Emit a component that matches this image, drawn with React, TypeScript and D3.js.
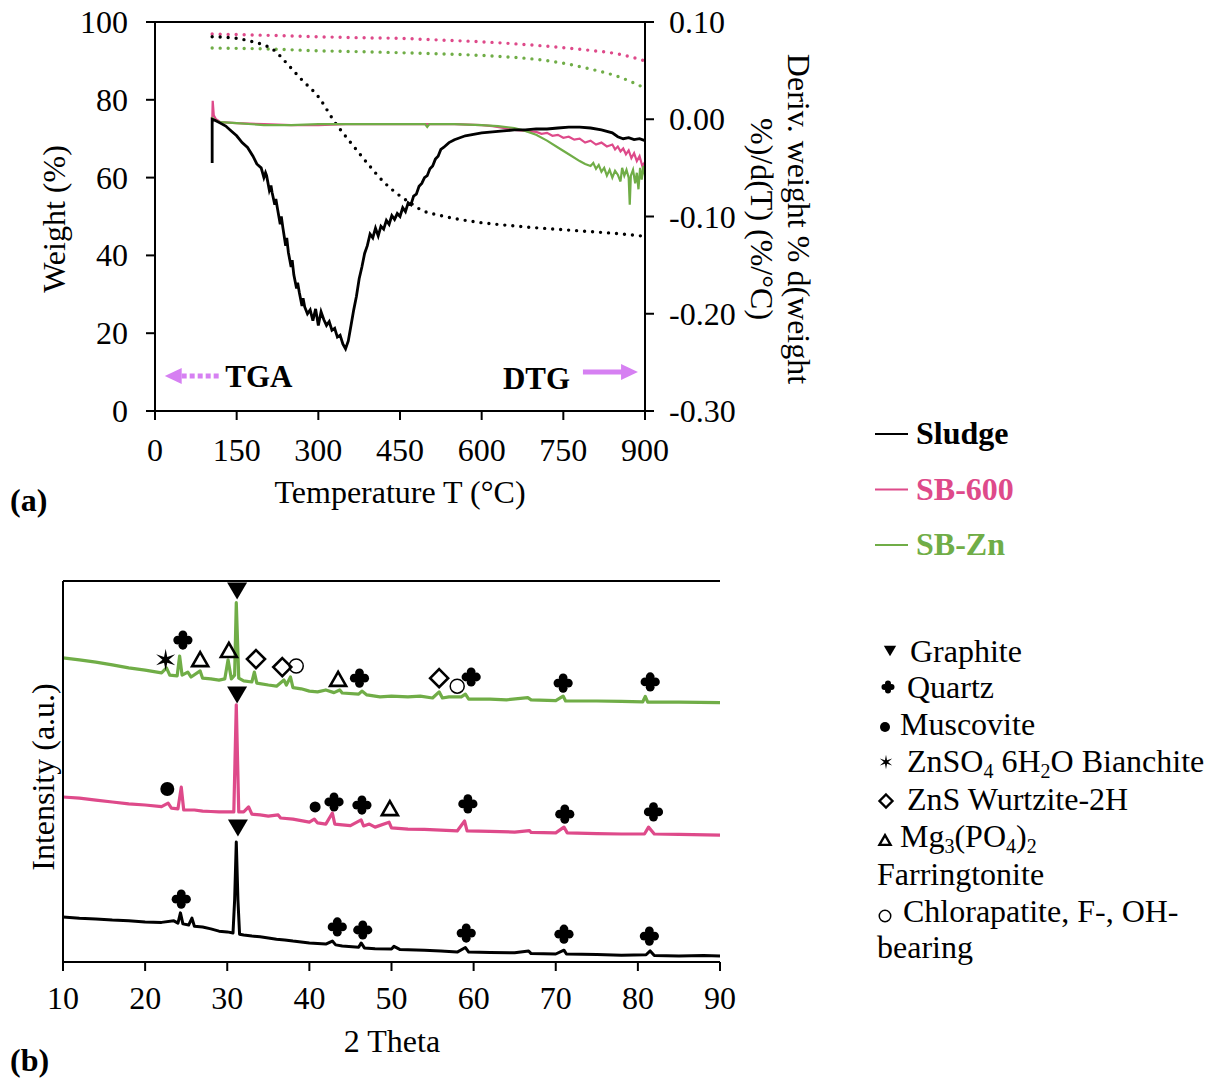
import React from 'react';
import * as d3 from 'd3';

const FONT = '"Liberation Serif", "Times New Roman", serif';
const BLACK = '#000000';
const PINK = '#DE4A8A';
const GREEN = '#70AD47';
const ARROW = '#D680F2';

// ---------- (a) TGA / DTG ----------
const tempTicks = [0, 150, 300, 450, 600, 750, 900];
const weightTicks = [0, 20, 40, 60, 80, 100];
const derivTicks = [0.1, 0, -0.1, -0.2, -0.3];

const tgaSludgeT = [105, 150, 180, 200, 220, 240, 270, 300, 330, 360, 390, 420, 450, 470, 490, 520, 550, 600, 650, 700, 750, 800, 850, 900];
const tgaSludge = [96.2, 95.8, 94.9, 94.1, 92.6, 89.7, 85.1, 80.8, 74.3, 68.9, 63.7, 58.9, 55.3, 53.4, 51.6, 50.4, 49.5, 48.4, 47.7, 47.1, 46.6, 46.1, 45.6, 44.9];
const tgaSB600T = [105, 200, 300, 400, 450, 500, 600, 700, 750, 800, 850, 900];
const tgaSB600 = [96.9, 96.6, 96.2, 95.9, 95.8, 95.5, 94.9, 94.0, 93.4, 92.7, 91.8, 90.0];
const tgaSBZnT = [105, 200, 300, 400, 450, 500, 600, 650, 700, 750, 800, 850, 900];
const tgaSBZn = [93.3, 93.1, 92.6, 92.3, 92.1, 91.9, 91.4, 91.0, 90.4, 89.4, 87.9, 86.0, 83.0];

const dtgSludge: [number, number][] = [
  [105, -0.045], [105, 0.0], [110, -0.001], [120, -0.004], [130, -0.007], [140, -0.012], [150, -0.017],
  [160, -0.024], [170, -0.029], [180, -0.038], [187, -0.046], [195, -0.05], [200, -0.06], [203, -0.055], [205, -0.058],
  [210, -0.073], [213, -0.068], [215, -0.075], [220, -0.088], [222, -0.082], [225, -0.092], [230, -0.108], [232, -0.1],
  [235, -0.112], [240, -0.13], [242, -0.122], [245, -0.137], [250, -0.152], [252, -0.145], [255, -0.16], [260, -0.174],
  [262, -0.168], [265, -0.178], [270, -0.192], [272, -0.184], [275, -0.193],
  [280, -0.2], [285, -0.196], [290, -0.207], [295, -0.195], [300, -0.212], [305, -0.198], [310, -0.206],
  [315, -0.212], [320, -0.208], [325, -0.217], [330, -0.215], [335, -0.224], [340, -0.222], [345, -0.231],
  [350, -0.236], [355, -0.228], [360, -0.212], [365, -0.196], [370, -0.182], [375, -0.164], [380, -0.152],
  [385, -0.138], [390, -0.13], [395, -0.118], [400, -0.122], [405, -0.112], [410, -0.12], [415, -0.11],
  [420, -0.113], [425, -0.104], [430, -0.108], [435, -0.099], [440, -0.103], [445, -0.097], [450, -0.1],
  [455, -0.091], [460, -0.095], [465, -0.086], [470, -0.088], [475, -0.079], [480, -0.077], [485, -0.069],
  [490, -0.066], [495, -0.06], [500, -0.058], [505, -0.051], [510, -0.048], [515, -0.041], [520, -0.038],
  [525, -0.031], [530, -0.029], [540, -0.024], [550, -0.021], [560, -0.019], [570, -0.017], [580, -0.016],
  [600, -0.014], [620, -0.013], [640, -0.012], [660, -0.011], [680, -0.011], [700, -0.01], [720, -0.01],
  [740, -0.009], [760, -0.008], [780, -0.008], [800, -0.009], [820, -0.011], [840, -0.014], [850, -0.018],
  [860, -0.02], [870, -0.019], [880, -0.021], [890, -0.02], [900, -0.022],
];
const dtgSB600: [number, number][] = [
  [105, -0.004], [106, 0.019], [108, 0.004], [112, 0.0], [120, -0.003], [150, -0.004], [200, -0.005],
  [250, -0.006], [300, -0.006], [350, -0.005], [400, -0.005], [450, -0.005], [500, -0.005], [550, -0.005],
  [600, -0.006], [620, -0.007], [640, -0.009], [660, -0.011], [680, -0.012], [700, -0.013], [710, -0.015],
  [720, -0.014], [730, -0.017], [740, -0.016], [750, -0.019], [760, -0.018], [770, -0.021], [780, -0.02],
  [790, -0.024], [800, -0.022], [810, -0.026], [820, -0.024], [830, -0.028], [840, -0.026], [845, -0.031],
  [850, -0.028], [855, -0.033], [860, -0.03], [865, -0.036], [870, -0.032], [875, -0.04], [880, -0.035],
  [885, -0.043], [890, -0.038], [895, -0.048], [900, -0.044],
];
const dtgSBZn: [number, number][] = [
  [105, -0.002], [106, 0.001], [110, -0.001], [120, -0.003], [150, -0.004], [200, -0.006], [250, -0.006],
  [300, -0.005], [350, -0.005], [400, -0.005], [450, -0.005], [496, -0.005], [500, -0.008], [504, -0.005],
  [550, -0.005], [600, -0.006], [630, -0.007], [660, -0.009], [680, -0.012], [700, -0.016], [720, -0.022],
  [740, -0.029], [760, -0.036], [780, -0.043], [790, -0.046], [800, -0.048], [805, -0.045], [810, -0.051],
  [815, -0.047], [820, -0.054], [825, -0.05], [830, -0.058], [835, -0.052], [840, -0.06], [845, -0.053],
  [850, -0.057], [855, -0.064], [858, -0.05], [862, -0.058], [866, -0.052], [870, -0.06], [872, -0.088],
  [874, -0.058], [878, -0.052], [882, -0.066], [885, -0.055], [888, -0.072], [891, -0.05], [894, -0.062],
  [897, -0.048], [900, -0.058],
];

const seriesNames = ['Sludge', 'SB-600', 'SB-Zn'];
const seriesColors = [BLACK, PINK, GREEN];

// ---------- (b) XRD ----------
const thetaTicks = [10, 20, 30, 40, 50, 60, 70, 80, 90];

const xrdSludge: [number, number][] = [
  [10, 11.8], [12, 11.5], [14, 11.3], [16, 11.0], [18, 10.8], [20, 10.5], [22, 10.4], [23.5, 10.8], [24.0, 10.2],
  [24.3, 12.9], [24.6, 10.0], [25.3, 9.7], [25.7, 11.5], [26.0, 9.4], [27, 9.2], [28, 8.7], [29, 8.1], [30, 7.9],
  [30.7, 7.6], [30.9, 16.3], [31.1, 31.5], [31.3, 16.3], [31.5, 7.3], [32, 7.1], [33, 6.8], [34, 6.6], [35, 6.3],
  [36, 6.0], [37, 5.8], [38, 5.5], [40, 5.0], [42, 4.7], [42.8, 5.5], [43.2, 4.5], [44, 4.2], [46, 3.9], [46.3, 5.0],
  [46.7, 3.7], [48, 3.5], [50, 3.4], [50.3, 4.1], [51, 3.3], [54, 3.1], [56, 2.9], [58, 2.6], [59.0, 3.8], [59.4, 2.6],
  [62, 2.5], [65, 2.4], [66.7, 2.9], [67, 2.2], [70, 2.1], [71.0, 3.1], [71.3, 2.1], [75, 2.0], [78, 1.8], [81.0, 1.9],
  [81.5, 2.9], [82, 1.7], [85, 1.6], [88, 1.7], [90, 1.6],
];
const xrdSB600: [number, number][] = [
  [10, 43.3], [12, 43.0], [14, 42.5], [16, 42.0], [18, 41.5], [20, 41.2], [22, 40.8], [22.8, 41.7], [23.2, 40.4],
  [24.0, 40.2], [24.4, 45.9], [24.7, 39.9], [26, 39.9], [27, 39.6], [28, 39.5], [29, 39.4], [30, 39.4], [30.8, 39.4],
  [31.1, 67.5], [31.4, 39.4], [32, 39.4], [32.6, 40.7], [33, 38.8], [34, 38.6], [35, 38.3], [36.2, 38.6], [36.5, 37.8],
  [38, 37.5], [40, 36.7], [40.6, 37.5], [41, 36.5], [42, 36.2], [42.8, 39.1], [43.1, 36.2], [44, 36.0], [45, 35.8],
  [46.3, 37.3], [46.6, 35.7], [47.3, 36.2], [48, 35.4], [49.7, 36.7], [50, 35.2], [52, 34.9], [54, 34.8], [56, 34.6],
  [58, 34.4], [58.9, 37.0], [59.2, 34.4], [62, 34.3], [65, 34.1], [66.8, 34.5], [67, 34.0], [70, 33.9], [71.0, 35.4],
  [71.4, 33.9], [75, 33.7], [78, 33.6], [80.8, 33.6], [81.3, 35.4], [82, 33.6], [85, 33.5], [90, 33.3],
];
const xrdSBZn: [number, number][] = [
  [10, 79.8], [12, 79.3], [14, 78.7], [16, 78.0], [18, 77.2], [20, 76.6], [22, 75.9], [22.6, 77.2], [23.0, 75.3],
  [23.9, 75.1], [24.2, 80.3], [24.5, 75.3], [25.2, 76.1], [25.6, 74.8], [26.7, 76.4], [27.0, 74.5], [28, 74.3],
  [29, 74.0], [29.7, 74.3], [30.1, 79.3], [30.5, 74.3], [30.9, 75.3], [31.1, 94.3], [31.4, 74.5], [32, 73.8],
  [33.0, 73.5], [33.3, 76.1], [33.6, 73.2], [35, 72.7], [36, 72.4], [36.9, 74.0], [37.2, 72.7], [37.7, 74.8],
  [38.0, 72.0], [39, 71.7], [40, 71.1], [41, 70.9], [42, 71.4], [43, 70.7], [43.7, 71.4], [44, 70.6], [46, 70.3],
  [46.4, 71.1], [47, 70.1], [48.6, 69.6], [50, 69.8], [52, 69.6], [53.5, 69.8], [55, 69.3], [55.8, 70.9], [56.2, 69.3],
  [57, 69.6], [58.5, 69.6], [59, 70.3], [59.4, 69.0], [62, 69.0], [64, 68.8], [66.6, 69.4], [67, 68.8], [70, 68.6],
  [70.9, 69.8], [71.2, 68.5], [75, 68.5], [78, 68.4], [80.6, 68.3], [80.9, 69.7], [81.2, 68.2], [85, 68.2], [90, 68.1],
];

type Mark = { t: number; i: number; k: string; r?: number };
const markSBZn: Mark[] = [
  { t: 22.5, i: 79.3, k: 'star' }, { t: 24.6, i: 84.5, k: 'quartz' }, { t: 26.7, i: 79.5, k: 'tri' },
  { t: 30.2, i: 81.9, k: 'tri' }, { t: 31.2, i: 97.4, k: 'graphite' }, { t: 33.5, i: 79.5, k: 'diamond' },
  { t: 36.7, i: 77.4, k: 'diamond' }, { t: 38.4, i: 77.7, k: 'circle' }, { t: 43.5, i: 74.3, k: 'tri' },
  { t: 46.1, i: 74.5, k: 'quartz' }, { t: 55.8, i: 74.5, k: 'diamond' }, { t: 58.0, i: 72.4, k: 'circle' },
  { t: 59.7, i: 74.8, k: 'quartz' }, { t: 70.9, i: 73.2, k: 'quartz' }, { t: 81.5, i: 73.5, k: 'quartz' },
];
const markSB600: Mark[] = [
  { t: 22.7, i: 45.4, k: 'dot', r: 7 }, { t: 31.2, i: 70.1, k: 'graphite' }, { t: 40.7, i: 40.7, k: 'dot', r: 5.5 },
  { t: 43.0, i: 42.0, k: 'quartz' }, { t: 46.4, i: 41.2, k: 'quartz' }, { t: 49.8, i: 40.4, k: 'tri' },
  { t: 59.3, i: 41.5, k: 'quartz' }, { t: 71.1, i: 38.8, k: 'quartz' }, { t: 81.9, i: 39.4, k: 'quartz' },
];
const markSludge: Mark[] = [
  { t: 31.3, i: 35.2, k: 'graphite' }, { t: 24.4, i: 16.5, k: 'quartz' }, { t: 43.4, i: 9.2, k: 'quartz' },
  { t: 46.5, i: 8.4, k: 'quartz' }, { t: 59.1, i: 7.6, k: 'quartz' }, { t: 71.0, i: 7.3, k: 'quartz' },
  { t: 81.4, i: 6.8, k: 'quartz' },
];

// scales
const xT = d3.scaleLinear().domain([0, 900]).range([155, 645]);
const yW = d3.scaleLinear().domain([0, 100]).range([411, 22]);
const yD = d3.scaleLinear().domain([-0.3, 0.1]).range([411, 22]);
const x2 = d3.scaleLinear().domain([10, 90]).range([63, 720]);
const yI = d3.scaleLinear().domain([0, 100]).range([962, 581]);

function zipLine(ts: number[], vs: number[]) {
  const line = d3.line<number>().x((_, i) => xT(ts[i])).y((v) => yW(v)).curve(d3.curveMonotoneX);
  return line(vs) || '';
}
const dtgLine = d3.line<[number, number]>().x((d) => xT(d[0])).y((d) => yD(d[1]));
const xrdLine = d3.line<[number, number]>().x((d) => x2(d[0])).y((d) => yI(d[1]));

function Symbol({ k, x, y, s = 1, r }: { k: string; x: number; y: number; s?: number; r?: number }) {
  if (k === 'graphite') {
    const w = 10 * s, h = 8.5 * s;
    return <polygon points={`${x - w},${y - h} ${x + w},${y - h} ${x},${y + h}`} fill="#000" />;
  }
  if (k === 'quartz') {
    const o = 5.2 * s, rr = 4.4 * s;
    return (
      <g filter="url(#soft)" fill="#000">
        <circle cx={x} cy={y - o} r={rr} />
        <circle cx={x} cy={y + o} r={rr} />
        <circle cx={x - o} cy={y} r={rr} />
        <circle cx={x + o} cy={y} r={rr} />
        <rect x={x - 2.5 * s} y={y - 2.5 * s} width={5 * s} height={5 * s} />
      </g>
    );
  }
  if (k === 'dot') return <circle cx={x} cy={y} r={(r ?? 7) * s} fill="#000" />;
  if (k === 'circle')
    return <circle cx={x} cy={y} r={7 * s} fill="none" stroke="#000" strokeWidth={1.5} />;
  if (k === 'tri') {
    const w = 8 * s, h = 7 * s;
    return (
      <polygon points={`${x},${y - h} ${x + w},${y + h} ${x - w},${y + h}`} fill="none" stroke="#000"
        strokeWidth={2.6 * Math.min(1, s + 0.2)} strokeLinejoin="miter" />
    );
  }
  if (k === 'diamond') {
    const d = 9 * s;
    return (
      <polygon points={`${x},${y - d} ${x + d},${y} ${x},${y + d} ${x - d},${y}`} fill="none" stroke="#000"
        strokeWidth={2.6 * Math.min(1, s + 0.2)} />
    );
  }
  if (k === 'star') {
    const pts: string[] = [];
    for (let j = 0; j < 12; j++) {
      const a = (Math.PI / 6) * j - Math.PI / 2;
      const rad = (j % 2 === 0 ? 11 : 3.2) * s;
      pts.push(`${x + rad * Math.cos(a)},${y + rad * Math.sin(a)}`);
    }
    return <polygon points={pts.join(' ')} fill="#000" />;
  }
  return null;
}

export default function App() {
  const txt = { fontFamily: FONT, fontSize: 32, fill: '#000' } as const;
  const sub = 20;
  const dsub = 6;
  return (
    <svg width={1212} height={1078} style={{ position: 'absolute', left: 0, top: 0, background: '#fff' }}>
      <defs>
        <filter id="soft" x="-50%" y="-50%" width="200%" height="200%">
          <feGaussianBlur stdDeviation={0.7} />
        </filter>
      </defs>
      <rect width={1212} height={1078} fill="#fff" />

      {/* ===== (a) ===== */}
      <g>
        <path d={zipLine(tgaSB600T, tgaSB600)} fill="none" stroke={PINK} strokeWidth={3.4} strokeDasharray="0 8" strokeLinecap="round" />
        <path d={zipLine(tgaSBZnT, tgaSBZn)} fill="none" stroke={GREEN} strokeWidth={3.4} strokeDasharray="0 8" strokeLinecap="round" />
        <path d={zipLine(tgaSludgeT, tgaSludge)} fill="none" stroke={BLACK} strokeWidth={3.4} strokeDasharray="0 8" strokeLinecap="round" />
        <path d={dtgLine(dtgSB600) || ''} fill="none" stroke={PINK} strokeWidth={2.2} />
        <path d={dtgLine(dtgSBZn) || ''} fill="none" stroke={GREEN} strokeWidth={2.2} />
        <path d={dtgLine(dtgSludge) || ''} fill="none" stroke={BLACK} strokeWidth={2.8} />

        <line x1={xT(0)} x2={xT(900)} y1={yW(100)} y2={yW(100)} stroke="#000" strokeWidth={2} />
        <line x1={xT(0)} x2={xT(900)} y1={yW(0)} y2={yW(0)} stroke="#000" strokeWidth={2} />
        <line x1={xT(0)} x2={xT(0)} y1={yW(0)} y2={yW(100)} stroke="#000" strokeWidth={2} />
        <line x1={xT(900)} x2={xT(900)} y1={yW(0)} y2={yW(100)} stroke="#000" strokeWidth={2} />

        {weightTicks.map((v) => (
          <g key={'w' + v}>
            <line x1={xT(0) - 9} x2={xT(0)} y1={yW(v)} y2={yW(v)} stroke="#000" strokeWidth={2} />
            <text x={xT(0) - 27} y={yW(v) + 11} textAnchor="end" {...txt}>{v}</text>
          </g>
        ))}
        {tempTicks.map((v) => (
          <g key={'t' + v}>
            <line x1={xT(v)} x2={xT(v)} y1={yW(0)} y2={yW(0) + 9} stroke="#000" strokeWidth={2} />
            <text x={xT(v)} y={yW(0) + 50} textAnchor="middle" {...txt}>{v}</text>
          </g>
        ))}
        {derivTicks.map((v) => (
          <g key={'d' + v}>
            <line x1={xT(900)} x2={xT(900) + 9} y1={yD(v)} y2={yD(v)} stroke="#000" strokeWidth={2} />
            <text x={xT(900) + 24} y={yD(v) + 11} textAnchor="start" {...txt}>{v.toFixed(2)}</text>
          </g>
        ))}
        <text x={400} y={503} textAnchor="middle" {...txt}>Temperature T (°C)</text>
        <text transform="translate(65,219) rotate(-90)" textAnchor="middle" {...txt}>Weight (%)</text>
        <text transform="translate(788,219) rotate(90)" textAnchor="middle" {...txt}>Deriv. weight % d(weight</text>
        <text transform="translate(751,219) rotate(90)" textAnchor="middle" {...txt}>%)/d(T) (%/°C)</text>

        <line x1={xT(49)} x2={xT(118)} y1={yW(9)} y2={yW(9)} stroke={ARROW} strokeWidth={5} strokeDasharray="5 3" />
        <polygon points={`${xT(18)},${yW(9)} ${xT(49)},${yW(9) - 8} ${xT(49)},${yW(9) + 8}`} fill={ARROW} />
        <text x={xT(129)} y={387} fontWeight="bold" {...txt} fontSize={31}>TGA</text>
        <line x1={xT(786)} x2={xT(858)} y1={yD(-0.26)} y2={yD(-0.26)} stroke={ARROW} strokeWidth={5} />
        <polygon points={`${xT(887)},${yD(-0.26)} ${xT(856)},${yD(-0.26) - 8} ${xT(856)},${yD(-0.26) + 8}`} fill={ARROW} />
        <text x={xT(639)} y={389} fontWeight="bold" {...txt} fontSize={31}>DTG</text>

        <text x={10} y={511} fontWeight="bold" {...txt}>(a)</text>

        {seriesNames.map((n, i) => (
          <g key={n}>
            <line x1={875} x2={908} y1={434 + i * 55.5} y2={434 + i * 55.5} stroke={seriesColors[i]} strokeWidth={2} />
            <text x={916} y={444 + i * 55.5} fontWeight="bold" {...txt} fill={seriesColors[i]}>{n}</text>
          </g>
        ))}
      </g>

      {/* ===== (b) ===== */}
      <g>
        <path d={xrdLine(xrdSBZn) || ''} fill="none" stroke={GREEN} strokeWidth={3.2} strokeLinejoin="round" />
        <path d={xrdLine(xrdSB600) || ''} fill="none" stroke={PINK} strokeWidth={3.2} strokeLinejoin="round" />
        <path d={xrdLine(xrdSludge) || ''} fill="none" stroke={BLACK} strokeWidth={3} strokeLinejoin="round" />

        {[...markSBZn, ...markSB600, ...markSludge].map((m, j) => (
          <Symbol key={'m' + j} k={m.k} x={x2(m.t)} y={yI(m.i)} r={m.r} />
        ))}

        <line x1={x2(10)} x2={x2(90)} y1={yI(100)} y2={yI(100)} stroke="#000" strokeWidth={2} />
        <line x1={x2(10)} x2={x2(10)} y1={yI(0)} y2={yI(100)} stroke="#000" strokeWidth={2} />
        <line x1={x2(10)} x2={x2(90)} y1={yI(0)} y2={yI(0)} stroke="#000" strokeWidth={2} />
        {thetaTicks.map((v) => (
          <g key={'th' + v}>
            <line x1={x2(v)} x2={x2(v)} y1={yI(0)} y2={yI(0) + 9} stroke="#000" strokeWidth={2} />
            <text x={x2(v)} y={yI(0) + 47} textAnchor="middle" {...txt}>{v}</text>
          </g>
        ))}
        <text x={392} y={1052} textAnchor="middle" {...txt}>2 Theta</text>
        <text transform="translate(54,777) rotate(-90)" textAnchor="middle" {...txt}>Intensity (a.u.)</text>
        <text x={10} y={1071} fontWeight="bold" {...txt}>(b)</text>

        <Symbol k="graphite" x={890} y={651} s={0.62} />
        <text x={910} y={662} {...txt}>Graphite</text>
        <Symbol k="quartz" x={888} y={687} s={0.68} />
        <text x={907} y={698} {...txt}>Quartz</text>
        <Symbol k="dot" x={885} y={727} r={5} />
        <text x={900} y={735} {...txt}>Muscovite</text>
        <Symbol k="star" x={886} y={762} s={0.65} />
        <text x={907} y={772} {...txt}>
          ZnSO<tspan fontSize={sub} dy={dsub}>4</tspan><tspan dy={-dsub}> 6H</tspan>
          <tspan fontSize={sub} dy={dsub}>2</tspan><tspan dy={-dsub}>O Bianchite</tspan>
        </text>
        <Symbol k="diamond" x={886} y={801} s={0.72} />
        <text x={907} y={810} {...txt}>ZnS Wurtzite-2H</text>
        <Symbol k="tri" x={885} y={840} s={0.7} />
        <text x={900} y={847} {...txt}>
          Mg<tspan fontSize={sub} dy={dsub}>3</tspan><tspan dy={-dsub}>(PO</tspan>
          <tspan fontSize={sub} dy={dsub}>4</tspan><tspan dy={-dsub}>)</tspan>
          <tspan fontSize={sub} dy={dsub}>2</tspan>
        </text>
        <text x={877} y={885} {...txt}>Farringtonite</text>
        <Symbol k="circle" x={885} y={916} s={0.82} />
        <text x={903} y={922} {...txt}>Chlorapatite, F-, OH-</text>
        <text x={877} y={958} {...txt}>bearing</text>
      </g>
    </svg>
  );
}
